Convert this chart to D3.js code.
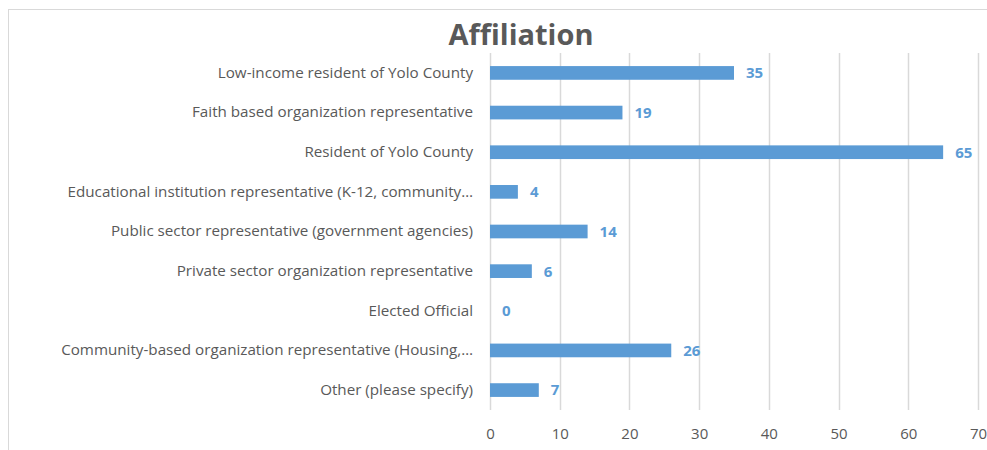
<!DOCTYPE html>
<html>
<head>
<meta charset="utf-8">
<script src="https://cdn.jsdelivr.net/npm/d3@7"></script>
<style>
  body { margin: 0; background: #fff; }
  svg { display: block; font-family: "Open Sans", sans-serif; }
</style>
</head>
<body>
<svg width="987" height="450"></svg>
<script>
// data
categories = [
  "Low-income resident of Yolo County",
  "Faith based organization representative",
  "Resident of Yolo County",
  "Educational institution representative (K-12, community\u2026",
  "Public sector representative (government agencies)",
  "Private sector organization representative",
  "Elected Official",
  "Community-based organization representative (Housing,\u2026",
  "Other (please specify)"
];
counts = [35, 19, 65, 4, 14, 6, 0, 26, 7];
xTicks = [0, 10, 20, 30, 40, 50, 60, 70];

svg = d3.select('svg');

// chart frame (only top and left edges show in the crop)
svg.append('rect')
  .attr('x', 8.5).attr('y', 9.5)
  .attr('width', 1100).attr('height', 600)
  .attr('fill', 'none')
  .attr('stroke', '#d9d9d9');

// title
svg.append('text')
  .attr('x', 521).attr('y', 45)
  .attr('text-anchor', 'middle')
  .attr('font-size', 29)
  .attr('font-weight', 'bold')
  .attr('fill', '#595959')
  .text('Affiliation');

margin = { top: 53, left: 490, right: 978, bottom: 410 };

x = d3.scaleLinear()
  .domain([0, 70])
  .range([margin.left, margin.right]);

y = d3.scaleBand()
  .domain(categories)
  .range([margin.top, margin.bottom])
  .paddingInner(0.655)
  .paddingOuter(0.33);

// vertical gridlines
svg.append('g')
  .selectAll('line')
  .data(xTicks)
  .enter().append('line')
    .attr('x1', d => Math.round(x(d)) + 0.5)
    .attr('x2', d => Math.round(x(d)) + 0.5)
    .attr('y1', margin.top)
    .attr('y2', margin.bottom)
    .attr('stroke', '#d9d9d9')
    .attr('stroke-width', 1.5);

// x axis labels
xAxis = svg.append('g')
  .attr('transform', `translate(0,${margin.bottom})`)
  .call(d3.axisBottom(x).tickValues(xTicks).tickSize(0).tickPadding(18));
xAxis.select('.domain').remove();
xAxis.selectAll('text')
  .attr('font-family', '"Open Sans", sans-serif')
  .attr('font-size', 15)
  .attr('fill', '#595959');

// category labels
yAxis = svg.append('g')
  .attr('transform', `translate(${margin.left - 17},0)`)
  .call(d3.axisLeft(y).tickSize(0).tickPadding(0));
yAxis.select('.domain').remove();
yAxis.selectAll('text')
  .attr('font-family', '"Open Sans", sans-serif')
  .attr('font-size', 15.2)
  .attr('fill', '#595959');

// bars
svg.selectAll('.bar')
  .data(counts)
  .enter().append('rect')
    .attr('class', 'bar')
    .attr('x', x(0))
    .attr('y', (d, i) => y(categories[i]))
    .attr('width', d => Math.max(0, x(d) - x(0)))
    .attr('height', y.bandwidth())
    .attr('fill', '#5b9bd5');

// value labels
svg.selectAll('.val')
  .data(counts)
  .enter().append('text')
    .attr('class', 'val')
    .attr('x', d => x(d) + 12)
    .attr('y', (d, i) => y(categories[i]) + y.bandwidth() / 2)
    .attr('dy', '0.36em')
    .attr('font-size', 15)
    .attr('font-weight', 'bold')
    .attr('fill', '#5b9bd5')
    .text(d => d);
</script>
</body>
</html>
